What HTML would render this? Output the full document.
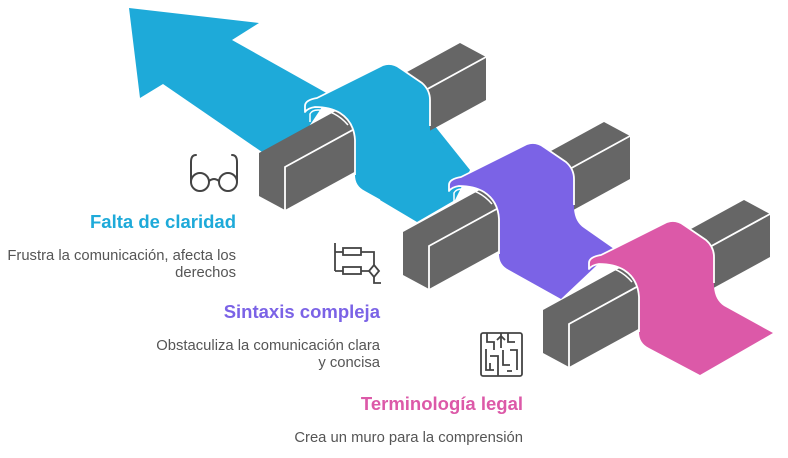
<!DOCTYPE html>
<html><head><meta charset="utf-8"><style>
html,body{margin:0;padding:0;background:#fff;}
svg{display:block}
text{font-family:"Liberation Sans",sans-serif}
</style></head><body>
<svg width="788" height="458" viewBox="0 0 788 458" xmlns="http://www.w3.org/2000/svg">
<!-- blue flat + arrow -->
<polygon fill="#1eaad9" points="129,8 259,23 232,40 330,95 300,140 262,152 163,84 140,98"/>
<polygon fill="#1eaad9" points="470,170 455,200 417,222 380,200 430,120"/>
<!-- bar1 -->
<polygon fill="#666" points="259,153 460,43 486,57 486,100 285,210 259,196"/>
<polyline fill="none" stroke="#fff" stroke-width="1.8" points="285,210 285,167 486,57"/>
<!-- blue raised -->
<path fill="#1eaad9" d="M305,112 L305,106 Q305,100 317,98 L383,65 Q392,62 400,68 L422,83 Q430,90 430,100 L430,130 Q431,143 440,149 L470,170 L417,220 L365,191 Q355,186 355,175 L355,140 Q354,122 340,113 Q330,107 315,107 Q308,108 305,112 Z"/>
<path fill="none" stroke="#fff" stroke-width="1.8" stroke-linejoin="round" d="M355,175 L355,140 Q354,122 340,113 Q330,107 315,107 Q308,108 305,112 L305,106 Q305,100 317,98 L383,65 Q392,62 400,68 L422,83 Q430,90 430,100 L430,126"/>
<path fill="none" stroke="#fff" stroke-width="1.5" d="M310,122 L310,114 Q312,110 318,110 Q335,110 348,125"/>
<!-- bar2 -->
<polygon fill="#666" points="403,232 604,122 630,136 630,179 429,289 403,275"/>
<polyline fill="none" stroke="#fff" stroke-width="1.8" points="429,289 429,246 630,136"/>
<!-- purple raised -->
<path fill="#7b63e6" d="M449,191 L449,185 Q449,179 461,177 L527,144 Q536,141 544,147 L566,162 Q574,169 574,179 L574,209 Q575,222 584,228 L614,249 L561,299 L509,270 Q499,265 499,254 L499,219 Q498,201 484,192 Q474,186 459,186 Q452,187 449,191 Z"/>
<path fill="none" stroke="#fff" stroke-width="1.8" stroke-linejoin="round" d="M499,254 L499,219 Q498,201 484,192 Q474,186 459,186 Q452,187 449,191 L449,185 Q449,179 461,177 L527,144 Q536,141 544,147 L566,162 Q574,169 574,179 L574,205"/>
<path fill="none" stroke="#fff" stroke-width="1.5" d="M454,201 L454,193 Q456,189 462,189 Q479,189 492,204"/>
<!-- bar3 -->
<polygon fill="#666" points="543,310 744,200 770,214 770,257 569,367 543,353"/>
<polyline fill="none" stroke="#fff" stroke-width="1.8" points="569,367 569,324 770,214"/>
<!-- pink raised -->
<path fill="#dc59a8" d="M589,269 L589,263 Q589,257 601,255 L667,222 Q676,219 684,225 L706,240 Q714,247 714,257 L714,287 Q715,300 724,306 L773,333 L700,375 L649,348 Q639,343 639,332 L639,297 Q638,279 624,270 Q614,264 599,264 Q592,265 589,269 Z"/>
<path fill="none" stroke="#fff" stroke-width="1.8" stroke-linejoin="round" d="M639,332 L639,297 Q638,279 624,270 Q614,264 599,264 Q592,265 589,269 L589,263 Q589,257 601,255 L667,222 Q676,219 684,225 L706,240 Q714,247 714,257 L714,283"/>
<path fill="none" stroke="#fff" stroke-width="1.5" d="M594,279 L594,271 Q596,267 602,267 Q619,267 632,282"/>

<!-- glasses icon -->
<g fill="none" stroke="#444" stroke-width="2" stroke-linecap="round">
<path d="M196,155 Q191,155 191,162 L191,182"/>
<path d="M232,155 Q237,155 237,162 L237,182"/>
<circle cx="200" cy="182" r="9"/>
<circle cx="228" cy="182" r="9"/>
<path d="M209,181 Q214,177 219,181"/>
</g>
<!-- flowchart icon -->
<g fill="none" stroke="#444" stroke-width="1.8">
<path d="M335,243 L335,271 M335,252 L343,252 M335,271 L343,271"/>
<rect x="343" y="248" width="18" height="7"/>
<rect x="343" y="267" width="18" height="7"/>
<path d="M361,252 L374,252 L374,265 M361,271 L369,271"/>
<polygon points="374,265 379,271 374,277 369,271"/>
<path d="M374,277 L374,283 L381,283"/>
</g>
<!-- maze icon -->
<g fill="none" stroke="#444" stroke-width="1.8">
<rect x="481" y="333" width="41" height="43" rx="2"/>
<path d="M501,333 L501,348 M497,340 L501,336 L505,340 M487,333 L487,342 L494,342 L494,350 M508,333 L508,342 L515,342 M486,349 L486,370 L494,370 M490,356 L498,356 L498,376 M503,350 L503,365 L510,365 M510,350 L517,350 L517,370 M507,371 L512,371 M490,363 L490,370"/>
</g>

<!-- texts -->
<text x="236" y="228" text-anchor="end" font-size="18.5" font-weight="bold" fill="#1eaad9">Falta de claridad</text>
<text x="236" y="260" text-anchor="end" font-size="14.8" fill="#555">Frustra la comunicación, afecta los</text>
<text x="236" y="277" text-anchor="end" font-size="14.8" fill="#555">derechos</text>
<text x="380" y="318" text-anchor="end" font-size="18.5" font-weight="bold" fill="#7b63e6">Sintaxis compleja</text>
<text x="380" y="350" text-anchor="end" font-size="14.8" fill="#555">Obstaculiza la comunicación clara</text>
<text x="380" y="367" text-anchor="end" font-size="14.8" fill="#555">y concisa</text>
<text x="523" y="410" text-anchor="end" font-size="18.5" font-weight="bold" fill="#dc59a8">Terminología legal</text>
<text x="523" y="442" text-anchor="end" font-size="14.8" fill="#555">Crea un muro para la comprensión</text>
</svg>
</body></html>
